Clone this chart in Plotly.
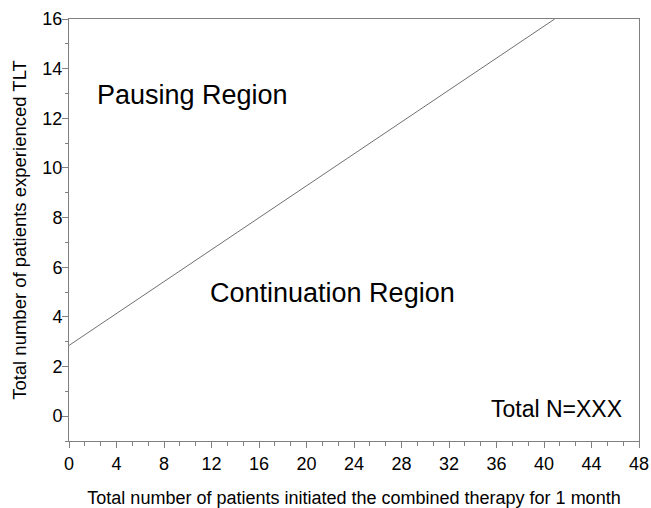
import plotly.graph_objects as go

# Boundary line data
line_x = [0, 40.9]
line_y = [2.85, 16]

x_ticks = list(range(0, 49, 4))
y_ticks = list(range(0, 17, 2))

labels = ["Pausing Region", "Continuation Region", "Total N=XXX"]
label_x = [10.4, 22.2, 46.7]
label_y = [12.95, 4.95, 0.3]

FONT = "Liberation Sans, Arial, sans-serif"
AX = "#808080"

fig = go.Figure()
fig.add_trace(go.Scatter(x=line_x, y=line_y, mode="lines",
                         line=dict(color="#707070", width=1), showlegend=False,
                         hoverinfo="skip", cliponaxis=True))

fig.add_annotation(x=label_x[0], y=label_y[0], text=labels[0], showarrow=False,
                   font=dict(size=27, color="black", family=FONT), xanchor="center", yanchor="middle")
fig.add_annotation(x=label_x[1], y=label_y[1], text=labels[1], showarrow=False,
                   font=dict(size=27, color="black", family=FONT), xanchor="center", yanchor="middle")
fig.add_annotation(x=label_x[2], y=label_y[2], text=labels[2], showarrow=False,
                   font=dict(size=23, color="black", family=FONT), xanchor="right", yanchor="middle")

fig.update_layout(
    width=651, height=508,
    margin=dict(l=69, r=12, t=19, b=67),
    paper_bgcolor="white", plot_bgcolor="white",
    font=dict(family=FONT, color="black"),
    xaxis=dict(range=[0, 48], tickvals=x_ticks, showgrid=False, zeroline=False,
               showline=True, linecolor=AX, linewidth=1, mirror=True, automargin=False,
               ticks="outside", ticklen=6, tickcolor=AX, tickfont=dict(size=18),
               ticklabelstandoff=0,
               minor=dict(ticks="outside", ticklen=4, tickcolor=AX, dtick=4/3, tick0=0),
               title=dict(text="Total number of patients initiated the combined therapy for 1 month",
                          font=dict(size=18), standoff=18)),
    yaxis=dict(range=[-1, 16], tickvals=y_ticks, showgrid=False, zeroline=False,
               showline=True, linecolor=AX, linewidth=1, mirror=True, automargin=False,
               ticks="outside", ticklen=6, tickcolor=AX, tickfont=dict(size=18),
               ticklabelstandoff=-4,
               minor=dict(ticks="outside", ticklen=3, tickcolor=AX, dtick=1, tick0=0),
               title=dict(text="Total number of patients experienced TLT",
                          font=dict(size=18.5), standoff=10)),
)

fig.write_html("out.html", config={"displayModeBar": False},
               post_script="document.body.style.margin='0';document.body.style.padding='0';")
